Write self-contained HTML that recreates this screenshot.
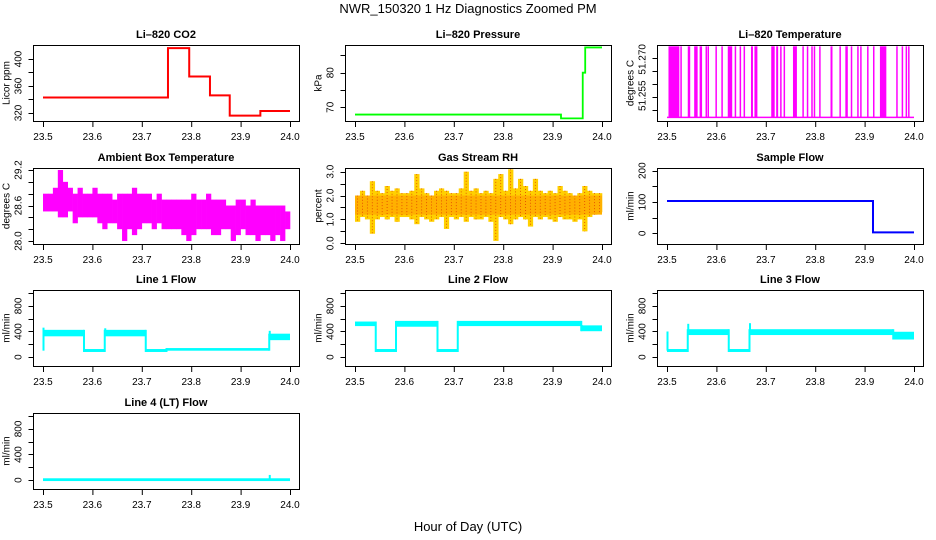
<!DOCTYPE html>
<html><head><meta charset="utf-8"><style>
html,body{margin:0;padding:0;background:#fff;}
svg{display:block;font-family:"Liberation Sans",sans-serif;}
</style></head><body>
<svg id="chart" width="936" height="540" viewBox="0 0 936 540">
<text x="468" y="13" text-anchor="middle" font-size="13">NWR_150320  1 Hz Diagnostics Zoomed PM</text>
<text x="468" y="531" text-anchor="middle" font-size="13">Hour of Day (UTC)</text>
</svg>
<script>
// ---- data ----
const xTicks = [23.5, 23.6, 23.7, 23.8, 23.9, 24.0];
const xTickLabels = ["23.5", "23.6", "23.7", "23.8", "23.9", "24.0"];
const co2Steps = [[23.5,23.753,343],[23.753,23.796,416],[23.796,23.838,374],[23.838,23.878,346],[23.878,23.94,316],[23.94,24.0,323]];
const pressureSteps = [[23.5,23.917,67.9],[23.917,23.961,66.8],[23.961,23.966,80],[23.966,24.0,87.3]];
const sampleSteps = [[23.5,23.917,103],[23.917,24.0,3]];
const tempLow = 51.2472;
const tempHigh = 51.2745;
const tempHighStarts = [23.503,23.527,23.542,23.555,23.566,23.578,23.582,23.598,23.610,23.623,23.637,23.647,23.655,23.670,23.677,23.711,23.721,23.729,23.736,23.755,23.774,23.783,23.792,23.797,23.808,23.831,23.849,23.861,23.872,23.885,23.891,23.905,23.917,23.931,23.964,23.975,23.983,23.988];
const tempHighEnds   = [23.525,23.529,23.547,23.562,23.571,23.580,23.584,23.599,23.613,23.632,23.640,23.648,23.657,23.674,23.683,23.718,23.725,23.732,23.739,23.763,23.775,23.786,23.794,23.799,23.810,23.835,23.852,23.866,23.875,23.887,23.894,23.907,23.920,23.944,23.967,23.977,23.986,23.991];
const ambHi = [28.8,28.8,28.9,29.2,29.0,28.9,28.8,28.9,28.8,28.8,28.9,28.8,28.8,28.8,28.7,28.8,28.8,28.8,28.9,28.8,28.8,28.8,28.7,28.8,28.7,28.7,28.7,28.7,28.7,28.7,28.8,28.7,28.7,28.8,28.7,28.7,28.7,28.6,28.6,28.7,28.7,28.6,28.7,28.6,28.6,28.6,28.6,28.6,28.6,28.5];
const ambLo = [28.5,28.5,28.5,28.4,28.4,28.5,28.3,28.4,28.4,28.4,28.4,28.3,28.2,28.3,28.3,28.2,28.0,28.2,28.1,28.2,28.3,28.3,28.2,28.3,28.2,28.2,28.2,28.2,28.1,28.0,28.1,28.2,28.2,28.2,28.1,28.1,28.2,28.2,28.0,28.1,28.2,28.1,28.1,28.0,28.1,28.1,28.0,28.1,28.0,28.2];
const rhHi = [2.0,2.2,2.0,2.6,2.2,2.1,2.4,2.2,2.3,2.1,2.1,2.2,2.9,2.3,2.1,2.0,2.2,2.3,2.2,2.1,2.1,2.3,3.0,2.2,2.3,2.1,2.2,2.1,2.7,2.9,2.2,3.1,2.3,2.7,2.4,2.2,2.7,2.2,2.1,2.2,2.1,2.4,2.2,2.1,2.0,2.1,2.4,2.2,2.1,2.1];
const rhLo = [0.9,1.1,1.0,0.4,1.0,1.1,1.0,1.1,0.9,1.1,1.1,1.0,0.8,1.1,1.0,0.9,1.0,1.1,0.6,1.1,1.0,1.1,0.9,1.1,1.0,1.0,1.1,0.9,0.1,1.1,1.0,0.8,1.0,1.1,1.0,0.7,1.1,1.0,1.1,1.0,0.9,1.1,1.0,1.0,0.9,1.0,0.5,1.1,1.2,1.3];
const rhCore = [1.2, 2.0];
const line1Bands = [[23.5,23.583,340,410],[23.583,23.625,95,110],[23.625,23.708,340,410],[23.708,23.75,95,110],[23.75,23.958,115,125],[23.958,24.0,280,350]];
const line2Bands = [[23.5,23.542,500,540],[23.542,23.583,95,110],[23.583,23.667,490,550],[23.667,23.708,95,110],[23.708,23.958,500,550],[23.958,24.0,420,480]];
const line3Bands = [[23.5,23.542,95,110],[23.542,23.625,360,420],[23.625,23.667,95,110],[23.667,23.958,360,420],[23.958,24.0,290,380]];
const line4Bands = [[23.5,24.0,0,12]];
const line1Spikes = [[23.5,100,460],[23.625,340,450],[23.958,280,410]];
const line2Spikes = [[23.958,420,500]];
const line3Spikes = [[23.5,100,400],[23.542,360,520],[23.667,360,530]];
const line4Spikes = [[23.958,0,80]];

// ---- drawing ----
const NS = "http://www.w3.org/2000/svg";
const svg = document.getElementById('chart');
function mk(tag, attrs, parent){ const e=document.createElementNS(NS,tag); for(const k in attrs) e.setAttribute(k,attrs[k]); (parent||svg).appendChild(e); return e; }
const rowTops = [45,168,290,413], H = 76;

function panel(name, title, ytitle, col, row, ylo, yhi, yticks, ylabels){
  const g = mk('g',{});
  
  
  const xL = 43 + 312*col, top = rowTops[row], bot = top + H;
  const sx = t => xL + (t-23.5)/0.5*247;
  const sy = v => bot - (v-ylo)/(yhi-ylo)*H;
  const box = mk('rect',{x:xL-9.5,y:top+0.5,width:266,height:H,fill:'none',stroke:'#000','stroke-width':1},g);
  
  
  const tt = mk('text',{x:xL+123,y:top-7,'text-anchor':'middle','font-size':11,'font-weight':'bold'},g);
  tt.textContent = title;
  
  
  const xa = mk('g',{},g);
  
  
  xTicks.forEach((t,i)=>{
    mk('line',{x1:sx(t)+0.5,x2:sx(t)+0.5,y1:bot+1,y2:bot+6,stroke:'#000'},xa);
    const l = mk('text',{x:sx(t),y:bot+19,'text-anchor':'middle','font-size':10},xa);
    l.textContent = xTickLabels[i];
  });
  const ya = mk('g',{},g);
  
  
  const ax = xL-9.5;
  yticks.forEach(v=>{ const y=Math.round(sy(v))+0.5; mk('line',{x1:ax-5,x2:ax,y1:y,y2:y,stroke:'#000'},ya); });
  ylabels.forEach(([v,s])=>{
    const y = sy(v);
    const l = mk('text',{x:0,y:0,'text-anchor':'middle','font-size':10,transform:`translate(${ax-12},${y}) rotate(-90)`},ya);
    l.textContent = s;
  });
  const yt = mk('text',{x:0,y:0,'text-anchor':'middle','font-size':10,transform:`translate(${ax-24},${top+H/2}) rotate(-90)`},g);
  yt.textContent = ytitle;
  
  
  const data = mk('g',{},g);
  
  
  return {sx, sy, g:data};
}

function stepLine(p, steps, color, w){
  let d = '';
  steps.forEach((s,i)=>{ d += (i?'L':'M')+p.sx(s[0])+','+p.sy(s[2])+'L'+p.sx(s[1])+','+p.sy(s[2]); });
  const e = mk('path',{d,fill:'none',stroke:color,'stroke-width':w},p.g);
  
  
}
function bands(p, segs, spikes, color){
  let prev = null;
  segs.forEach(s=>{
    const x1=p.sx(s[0]), x2=p.sx(s[1]), y1=p.sy(s[3]), y2=p.sy(s[2]);
    const r = mk('rect',{x:x1,y:y1-1,width:x2-x1,height:Math.max(2,y2-y1+2),fill:color},p.g);
    
    
    if(prev){ const a=Math.min(prev[0],y1), b=Math.max(prev[1],y2); mk('rect',{x:x1-1,y:a-1,width:2,height:b-a+2,fill:color},p.g); }
    prev=[y1,y2];
  });
  spikes.forEach(s=>{
    const sp = mk('line',{x1:p.sx(s[0])+0.5,x2:p.sx(s[0])+0.5,y1:p.sy(s[1]),y2:p.sy(s[2]),stroke:color,'stroke-width':2},p.g);
    
    
  });
}
function envelope(p, hi, lo, color){
  const n = hi.length;
  for(let i=0;i<n;i++){
    const t1 = 23.5 + 0.5*i/n, t2 = 23.5 + 0.5*(i+1)/n;
    const r = mk('rect',{x:p.sx(t1),y:p.sy(hi[i]),width:p.sx(t2)-p.sx(t1)+0.3,height:p.sy(lo[i])-p.sy(hi[i]),fill:color},p.g);
    
    
  }
}

let p = panel('co2-panel','Li\u2013820 CO2','Licor ppm',0,0,308.1,420.7,[320,340,360,380,400],[[320,'320'],[360,'360'],[400,'400']]);
stepLine(p, co2Steps, '#ff0000', 2);
p = panel('pressure-panel','Li\u2013820 Pressure','kPa',1,0,66.04,88.0,[70,75,80,85],[[70,'70'],[80,'80']]);
stepLine(p, pressureSteps, '#00ff00', 1.8);
p = panel('li820-temp-panel','Li\u2013820 Temperature','degrees C',2,0,51.2458,51.275,[51.25,51.255,51.26,51.265,51.27],[[51.2555,'51.255'],[51.2695,'51.270']]);
stepLine(p, [[23.5,24.0,tempLow]], '#ff00ff', 1.5);
tempHighStarts.forEach((s,i)=>{
  const r = mk('rect',{x:p.sx(s),y:p.sy(tempHigh),width:Math.max(1.5,p.sx(tempHighEnds[i])-p.sx(s)),height:p.sy(tempLow)-p.sy(tempHigh),fill:'#ff00ff'},p.g);
  
  
});
p = panel('ambient-temp-panel','Ambient Box Temperature','degrees C',0,1,27.95,29.234,[28.0,28.2,28.4,28.6,28.8,29.0,29.2],[[28.0,'28.0'],[28.6,'28.6'],[29.2,'29.2']]);
envelope(p, ambHi, ambLo, '#ff00ff');
p = panel('rh-panel','Gas Stream RH','percent',1,1,-0.03,3.155,[0,0.5,1,1.5,2,2.5,3],[[0,'0.0'],[1,'1.0'],[2,'2.0'],[3,'3.0']]);
envelope(p, rhHi, rhLo, '#ffd000');
const core = mk('rect',{x:p.sx(23.5),y:p.sy(rhCore[1]),width:p.sx(24.0)-p.sx(23.5),height:p.sy(rhCore[0])-p.sy(rhCore[1]),fill:'#ffb000'},p.g);


rhHi.forEach((h,i)=>{
  const t = 23.5 + 0.5*(i+0.5)/rhHi.length;
  const l = mk('line',{x1:p.sx(t),x2:p.sx(t),y1:p.sy(h),y2:p.sy(rhLo[i]),stroke:'#e04000','stroke-width':0.8,'stroke-dasharray':'1 2'},p.g);
  
  
});
p = panel('sample-flow-panel','Sample Flow','ml/min',2,1,-34.2,208.6,[0,50,100,150,200],[[0,'0'],[100,'100'],[200,'200']]);
stepLine(p, sampleSteps, '#0000ff', 2);
const fT=[0,200,400,600,800,1000], fL=[[0,'0'],[400,'400'],[800,'800']];
p = panel('line1-flow-panel','Line 1 Flow','ml/min',0,2,-140,1049,fT,fL); bands(p,line1Bands,line1Spikes,'#00ffff');
p = panel('line2-flow-panel','Line 2 Flow','ml/min',1,2,-140,1049,fT,fL); bands(p,line2Bands,line2Spikes,'#00ffff');
p = panel('line3-flow-panel','Line 3 Flow','ml/min',2,2,-140,1049,fT,fL); bands(p,line3Bands,line3Spikes,'#00ffff');
p = panel('line4-flow-panel','Line 4 (LT) Flow','ml/min',0,3,-140,1049,fT,fL); bands(p,line4Bands,line4Spikes,'#00ffff');
</script>
</body></html>
